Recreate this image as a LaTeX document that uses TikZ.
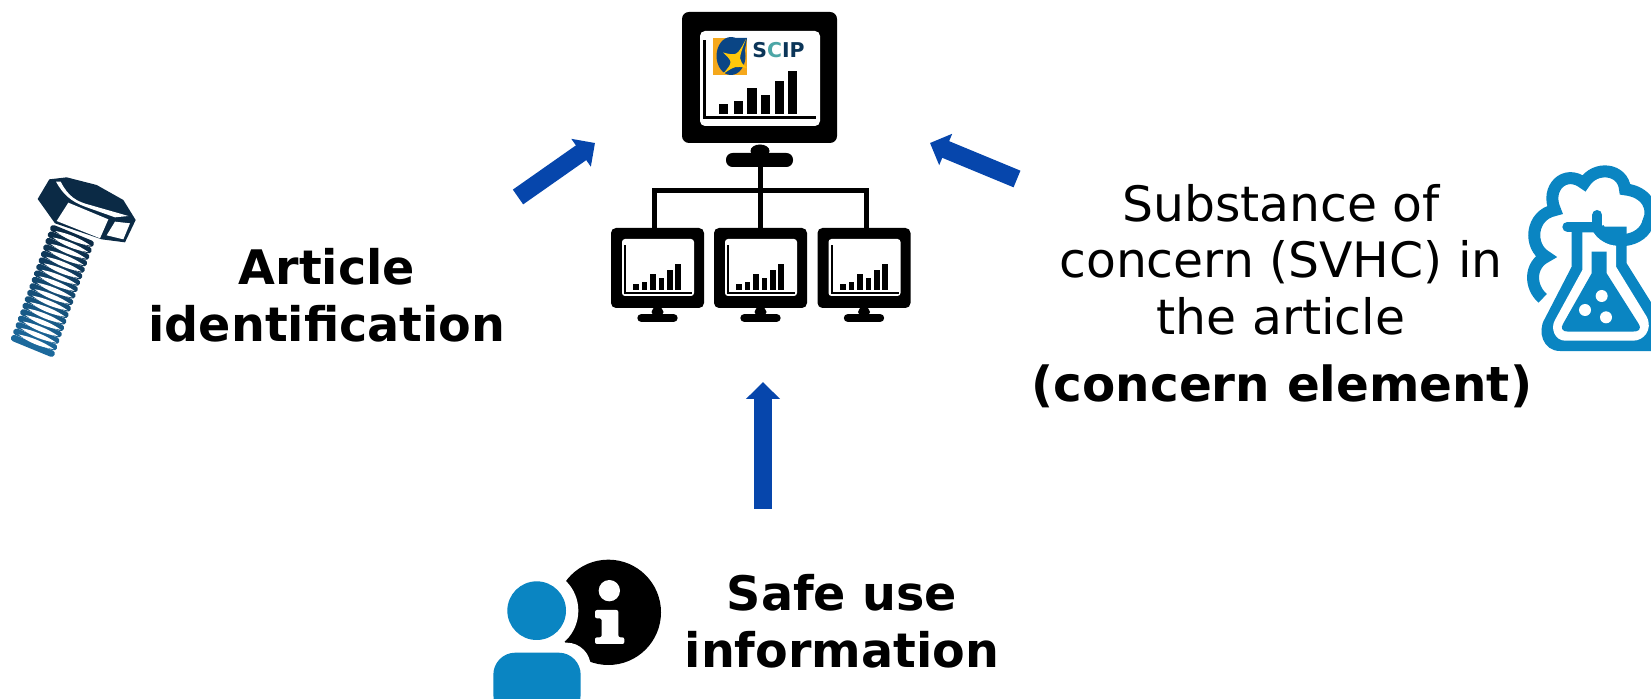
\documentclass[tikz,border=0pt]{standalone}
\usepackage{fontspec}
\setmainfont{DejaVu Sans}
\definecolor{arrowblue}{HTML}{0646AC}
\definecolor{iconblue}{HTML}{0A85C2}
\definecolor{boltdark}{HTML}{0B2A45}
\definecolor{boltblue}{HTML}{1F74AB}
\definecolor{logonavy}{HTML}{0B3558}
\definecolor{logoorange}{HTML}{F5A81C}
\definecolor{logoyellow}{HTML}{FFC80A}
\definecolor{logoblue}{HTML}{0A4585}
\usetikzlibrary{arrows.meta}
\tikzset{
  x=0.5pt,y=-0.5pt,
  monitorbox/.style={draw=none,fill=black,rounded corners=3.5pt,inner sep=0pt},
  bigmon/.style={monitorbox,minimum width=77.5pt,minimum height=65.5pt},
  smallmon/.style={monitorbox,minimum width=46.5pt,minimum height=40pt,rounded corners=2.5pt},
  wire/.style={draw=black,line width=2.5pt},
  flowarrow/.style={-{Triangle[length=8.5pt,width=16.5pt]},draw=arrowblue,line width=9pt},
  lbl/.style={align=center,inner sep=0pt,text=black},
  boldlbl/.style={lbl,font=\fontsize{23.8}{28.5}\selectfont\bfseries},
  plainlbl/.style={lbl,font=\fontsize{24.4}{28.2}\selectfont},
}
\begin{document}
\begin{tikzpicture}
\useasboundingbox (0,0) rectangle (1651,699);
% ---------- network ----------
\node[bigmon] (big) at (759.5,77.5) {};
\fill[white,rounded corners=2.5pt] (700,31) rectangle (820,126);
\fill (703,40) rectangle (706,119);
\fill (703,116.5) rectangle (816,119.5);
\foreach \a/\b/\t in {719/728/104,734/743/101,747/757/88,761/770/95,775/784/81,788/797/71}
  \fill (\a,\t) rectangle (\b,114);
% logo
\begin{scope}
  \clip (713,38) rectangle (747,75);
  \fill[logoorange] (713,38) rectangle (747,75);
  \fill[logoblue] (731,56) ellipse (14.5 and 19);
  \fill[logoblue] (730,38) -- (747,38) -- (745,50) -- (732,50) -- cycle;
  \fill[logoyellow] (746,39) .. controls (737,56) .. (723,52.5)
     .. controls (733,62) .. (723,74) .. controls (735,66) .. (747,68)
     .. controls (738,60) .. cycle;
\end{scope}
\node[inner sep=0pt,text=logonavy,font=\fontsize{10.2}{12}\selectfont\bfseries] (sciptext) at (778.5,50.5) {S\textcolor{teal!70!white}{C}IP};
% stand of the big monitor
\fill (760,151) ellipse (9.5 and 6.5);
\node[monitorbox,rounded corners=3.3pt,minimum width=33.5pt,minimum height=7pt] (hubbase) at (759.5,160) {};
\coordinate (hub) at (760,191);
% small monitors
\foreach \n/\cx in {ma/657.5,mb/760.5,mc/864}{
  \node[smallmon] (\n) at (\cx,268) {};
  \begin{scope}[shift={(\cx-46.5,0)}]
    \fill[white,rounded corners=1.5pt] (11,239) rectangle (83,296);
    \fill (13,245) rectangle (15,293.5);
    \fill (13,292) rectangle (81,294);
    \foreach \a/\b/\t in {22/28/284,31/36/282,39/45/274,48/53/278,56/62/270,64/70/264}
      \fill (\a,\t) rectangle (\b,290);
    \fill (46.5,312) ellipse (6 and 5);
    \draw[line width=4.2pt,line cap=round] (30.5,318) -- (62.5,318);
  \end{scope}
}
\draw[wire] (hubbase.south -| mb.north) -- (mb.north);
\draw[wire] ([xshift=-1.75pt]ma.north) |- (hub) -| ([xshift=1pt]mc.north);
% ---------- labels ----------
\node[boldlbl] (artlbl) at (327,295) {Article\\identification};
\node[plainlbl] (sublbl) at (1281,259.5) {Substance of\\concern (SVHC) in\\the article};
\node[lbl,font=\fontsize{24.2}{28.5}\selectfont\bfseries] (conlbl) at (1282,386) {(concern element)};
\node[boldlbl] (safelbl) at (842,621) {Safe use\\information};
% ---------- arrows ----------
\coordinate (a1s) at (518,197);
\coordinate (a1e) at (595,143);
\coordinate (a2s) at (1017,179);
\coordinate (a2e) at (930,143);
\coordinate (a3s) at (763,509);
\coordinate (a3e) at (763,382);
\draw[flowarrow] (a1s) -- (a1e);
\draw[flowarrow] (a2s) -- (a2e);
\draw[flowarrow] (a3s) -- (a3e);
% ---------- bolt ----------
\begin{scope}[shift={(0,160)},x=0.16667pt,y=-0.16667pt]
  % threads
  \foreach \i in {0,...,17}{
    \pgfmathsetmacro{\xa}{160-6.9*\i}
    \pgfmathsetmacro{\ya}{205+19.4*\i}
    \pgfmathtruncatemacro{\pct}{100-\i*5}
    \colorlet{thr}{boltdark!\pct!boltblue}
    \draw[thr,line width=3.3pt,line cap=round] (\xa,\ya) -- (\xa+112,\ya+46);
  }
  \foreach \i in {0,...,16}{
    \pgfmathsetmacro{\xa}{166-6.9*\i}
    \pgfmathsetmacro{\ya}{213+19.4*\i}
    \fill[white] (\xa,\ya) .. controls (\xa+35,\ya+6) and (\xa+75,\ya+22) .. (\xa+106,\ya+44)
       .. controls (\xa+65,\ya+38) and (\xa+30,\ya+24) .. cycle;
  }
  % head
  \fill[boltdark] (113,117) -- (148,58) -- (200,52) -- (290,75) -- (370,120) -- (407,180) -- (375,247) -- (305,238) -- (165,190) -- cycle;
  \fill[white] (205,128) -- (325,178) -- (300,235) -- (170,183) -- cycle;
  \fill[white] (345,185) -- (390,190) -- (370,238) -- (320,226) -- cycle;
  \fill[white] (168,65) -- (182,65) .. controls (205,110) and (230,125) .. (270,135) -- (385,168) -- (345,172) -- (255,140) .. controls (215,125) and (190,105) .. cycle;
\end{scope}
% ---------- flask ----------
\begin{scope}[shift={(1510,150)},x=0.16667pt,y=-0.16667pt]
  \clip (0,0) rectangle (423,630);
  \fill[iconblue] (150,603) .. controls (100,603) and (80,545) .. (105,505) -- (185,350) -- (185,230) -- (350,230) -- (350,340) -- (450,500) -- (450,603) -- cycle;
  \draw[iconblue,line width=5pt,line cap=round] (172,230) -- (262,230) (262,195) -- (262,235);
  \draw[iconblue,line width=6pt] (98,445) .. controls (58,410) and (58,345) .. (108,320)
    .. controls (55,290) and (60,195) .. (135,180)
    .. controls (105,115) and (165,55) .. (222,100)
    .. controls (255,45) and (340,55) .. (345,118)
    .. controls (410,125) and (435,175) .. (415,215)
    .. controls (400,280) and (295,290) .. (265,235);
  \fill[white] (217,247) -- (250,247) .. controls (265,270) and (290,285) .. (318,287) -- (318,350) -- (410,500) .. controls (430,540) and (400,572) .. (370,572) -- (165,572) .. controls (135,572) and (120,535) .. (135,510) -- (217,360) -- cycle;
  \fill[iconblue] (245,305) -- (290,305) -- (290,370) -- (385,520) .. controls (397,540) and (385,545) .. (365,545) -- (175,545) .. controls (157,545) and (150,535) .. (160,520) -- (245,370) -- cycle;
  \fill[white] (275,438) circle (18) (225,480) circle (18) (288,502) circle (18);
\end{scope}
% ---------- person + info ----------
\begin{scope}[shift={(480,550)},x=0.16667pt,y=-0.16667pt]
  \fill[black] (385,187) circle (158);
  \fill[white] (170,182) circle (125);
  \fill[white,rounded corners=12pt] (10,278) rectangle (332,470);
  \fill[iconblue] (170,182) circle (88);
  \fill[iconblue,rounded corners=11pt] (40,308) rectangle (302,500);
  \fill[white] (388,122) circle (32);
  \fill[white,rounded corners=1pt] (345,180) -- (415,180) -- (415,262) -- (433,262) -- (433,282) -- (345,282) -- (345,262) -- (365,262) -- (365,205) -- (345,205) -- cycle;
\end{scope}
\end{tikzpicture}
\end{document}
